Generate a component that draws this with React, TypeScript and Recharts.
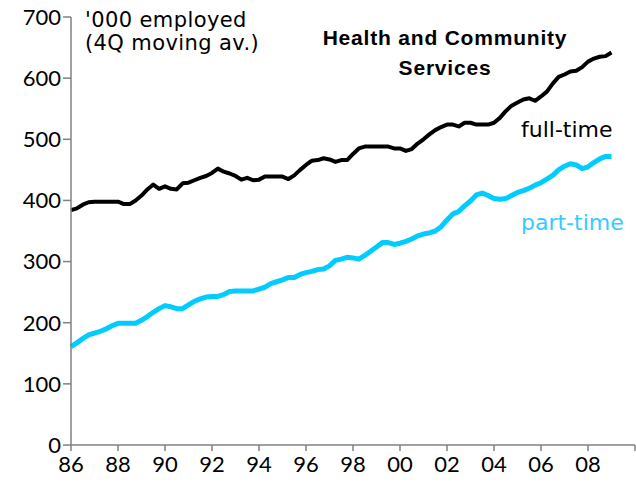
import { LineChart, Line, XAxis, YAxis } from 'recharts';

// quarterly, 1986Q1 onwards, '000 employed (4Q moving av.)
const startYear = 1986;

const fullTime = [
    384, 387, 393, 397, 398, 398, 398, 398, 398, 394, 394, 400,
    408, 418, 426, 419, 423, 419, 418, 428, 429, 433, 437, 440,
    445, 452, 447, 444, 440, 434, 437, 433, 434, 439, 439, 439,
    439, 435, 441, 450, 458, 465, 466, 469, 467, 463, 466, 466,
    476, 485, 488, 488, 488, 488, 488, 485, 485, 481, 484, 493,
    500, 508, 515, 520, 524, 524, 521, 527, 527, 524, 524, 524,
    527, 535, 546, 555, 560, 565, 567, 563, 570, 578, 591, 602,
    606, 611, 612, 618, 627, 632, 635, 636, 642,
];

const partTime = [
    161, 167, 174, 180, 183, 186, 190, 195, 199, 199, 199, 199,
    204, 210, 217, 223, 228, 226, 223, 223, 229, 235, 239, 242,
    243, 243, 246, 251, 252, 252, 252, 252, 255, 258, 264, 267,
    270, 274, 274, 279, 282, 284, 287, 288, 293, 302, 304, 307,
    306, 304, 310, 317, 324, 331, 331, 328, 330, 333, 337, 342,
    345, 347, 350, 357, 368, 378, 382, 391, 399, 409, 412, 408,
    403, 402, 403, 408, 413, 416, 420, 425, 429, 435, 441, 450,
    456, 460, 458, 452, 455, 462, 468, 472, 472,
];

const xTicks = [1986, 1988, 1990, 1992, 1994, 1996, 1998, 2000, 2002, 2004, 2006, 2008, 2010];
const yTicks = [0, 100, 200, 300, 400, 500, 600, 700];

const data = fullTime.map((v, i) => ({
    t: startYear + i / 4,
    full: v,
    part: partTime[i],
}));

const axisGrey = '#808080';
const tickFont = { fontSize: 22, fill: '#000', fontFamily: 'Lato, sans-serif' };
const noteFont = 'DejaVu Sans, sans-serif';

export default function App() {
    return (
        <div style={{ position: 'absolute', left: 0, top: 0, width: 636, height: 486, background: '#fff' }}>
            <LineChart width={636} height={486} data={data} margin={{ top: 17, right: 1, bottom: 0, left: 13 }}>
                <XAxis
                    dataKey="t"
                    type="number"
                    domain={[1986, 2010]}
                    ticks={xTicks}
                    interval={0}
                    tickFormatter={(v: number) => (v === 2010 ? '' : String(v).slice(2))}
                    tick={tickFont}
                    tickSize={6}
                    tickMargin={5}
                    stroke={axisGrey}
                    strokeWidth={1.5}
                    height={41}
                />
                <YAxis
                    domain={[0, 700]}
                    ticks={yTicks}
                    interval={0}
                    tick={tickFont}
                    tickSize={8}
                    tickMargin={2}
                    stroke={axisGrey}
                    strokeWidth={1.5}
                    width={58}
                />
                <Line dataKey="full" type="linear" stroke="#000" strokeWidth={4} dot={false} isAnimationActive={false} strokeLinejoin="round" />
                <Line dataKey="part" type="linear" stroke="#00CCFF" strokeWidth={5} dot={false} isAnimationActive={false} strokeLinejoin="round" />
            </LineChart>
            <svg width={636} height={486} style={{ position: 'absolute', left: 0, top: 0, pointerEvents: 'none' }}>
                <text x={85} y={27} fontFamily={noteFont} fontSize={21} letterSpacing={0.4} fill="#000">'000 employed</text>
                <text x={85} y={50} fontFamily={noteFont} fontSize={21} letterSpacing={0.4} fill="#000">(4Q moving av.)</text>
                <text x={445} y={45} textAnchor="middle" fontFamily="Liberation Sans, Arial, sans-serif" fontWeight="bold" fontSize={21} letterSpacing={0.8} fill="#000">Health and Community</text>
                <text x={445} y={75} textAnchor="middle" fontFamily="Liberation Sans, Arial, sans-serif" fontWeight="bold" fontSize={21} letterSpacing={0.8} fill="#000">Services</text>
                <text x={521} y={137} fontFamily={noteFont} fontSize={22} fill="#000">full-time</text>
                <text x={521} y={230} fontFamily={noteFont} fontSize={22} fill="#33CCFF">part-time</text>
            </svg>
        </div>
    );
}
